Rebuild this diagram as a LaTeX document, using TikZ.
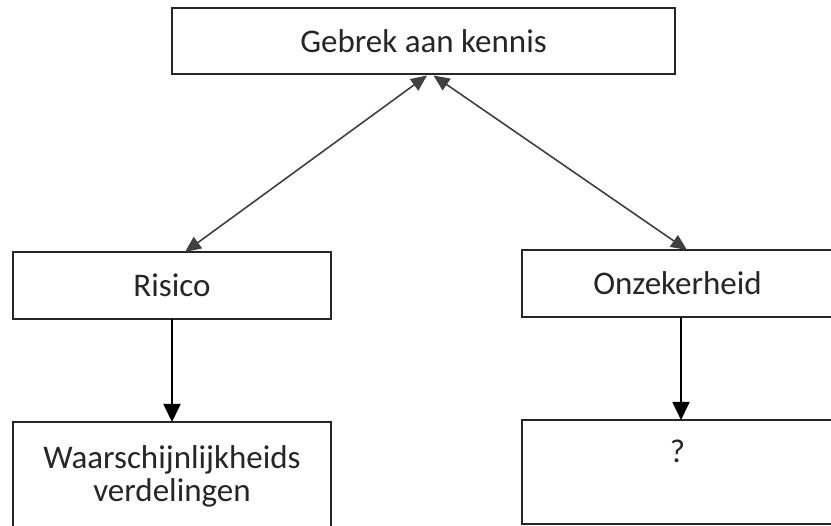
\documentclass[tikz,border=0pt]{standalone}
\usepackage{fontspec}
\setmainfont{Carlito}
\usetikzlibrary{arrows.meta}
\definecolor{ink}{HTML}{262626}
\definecolor{lin}{HTML}{404040}
\begin{document}
\begin{tikzpicture}[x=1pt,y=-1pt,
  box/.style={draw=ink,line width=1.8pt,fill=white,inner sep=0pt,outer sep=0pt,
     font=\fontsize{33}{33}\selectfont,text=ink},
  txt/.style={font=\fontsize{33}{33}\selectfont,text=ink,inner sep=0pt,align=center},
  diag/.style={draw=lin,line width=1.6pt,{Triangle[length=16pt,width=14pt]}-{Triangle[length=16pt,width=14pt]}},
  vert/.style={draw=black,line width=1.8pt,-{Triangle[length=18pt,width=17pt]}}]
\useasboundingbox (0,0) rectangle (831,526);
\clip (0,0) rectangle (831,526);
\fill[white] (0,0) rectangle (831,526);
\node[box,minimum width=503pt,minimum height=66pt] (top) at (423.5,41) {Gebrek aan kennis};
\node[box,minimum width=318pt,minimum height=67pt] (ris) at (172,285.5) {Risico};
\node[box,minimum width=311pt,minimum height=67pt] (onz) at (677.5,283.5) {Onzekerheid};
\node[box,minimum width=318pt,minimum height=108pt] (waar) at (172,476) {};
\node[box,minimum width=311pt,minimum height=104pt] (q) at (677.5,472) {};
\node[txt] (waartxt) at (172,476) {Waarschijnlijkheids\\verdelingen};
\node[txt,anchor=base] (qtxt) at (677.5,463) {?};
\draw[diag] ([xshift=3.5pt,yshift=-1.5pt]top.south) -- ([xshift=13pt]ris.north);
\draw[diag] ([xshift=10pt,yshift=-1.5pt]top.south) -- ([xshift=9.5pt]onz.north);
\draw[vert] (ris.south) -- (waar.north);
\draw[vert] ([xshift=3.5pt]onz.south) -- ([xshift=3.5pt]q.north);
\end{tikzpicture}
\end{document}
